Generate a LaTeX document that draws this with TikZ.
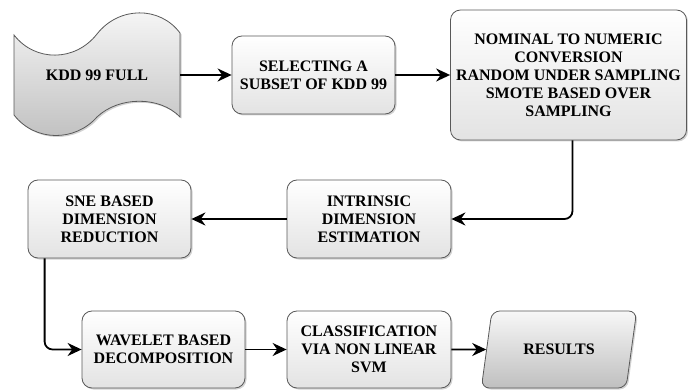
\documentclass[tikz,border=0pt]{standalone}
\usepackage{fontspec}
\setmainfont{Liberation Serif}
\usetikzlibrary{shapes.geometric,shadows,arrows.meta}

\begin{document}
\begin{tikzpicture}[x=1pt,y=-1pt,>={Stealth[length=14pt,width=13pt]},
  txt/.style={align=center, font=\fontsize{16}{18}\selectfont\bfseries, inner sep=2pt},
  shade/.style={drop shadow={shadow xshift=1.5pt,shadow yshift=-1.5pt,opacity=0.35}},
  box/.style={txt, shade, draw=gray!70!black, line width=0.8pt, rounded corners=10pt,
    top color=white, bottom color=gray!22},
  darkbox/.style={shade, draw=gray!70!black, line width=0.8pt, top color=gray!6, bottom color=gray!50},
  flow/.style={->, line width=1.8pt}]
\useasboundingbox (0,0) rectangle (688,390);

%the data source
\path[darkbox] (14,35) .. controls (35,62) and (75,62) .. (97,34) .. controls (119,6) and (160,6) .. (180,33)
  -- (180,117) .. controls (160,96) and (119,96) .. (97,117) .. controls (75,142) and (35,142) .. (14,115) -- cycle;
\node[txt, minimum width=166pt, minimum height=80pt] (kdd) at (97,75) {KDD 99 FULL};

%first row
\node[box, minimum width=163pt, minimum height=78pt] (sel) at (313.5,75) {SELECTING A\\ SUBSET OF KDD 99};
\node[box, minimum width=236pt, minimum height=130pt] (nom) at (568.5,75)
  {NOMINAL TO NUMERIC\\ CONVERSION\\ RANDOM UNDER SAMPLING\\ SMOTE BASED OVER\\ SAMPLING};
%second row
\node[box, minimum width=164pt, minimum height=78pt] (intr) at (369,219) {INTRINSIC\\ DIMENSION\\ ESTIMATION};
\node[box, minimum width=163pt, minimum height=78pt] (sne) at (109.5,219) {SNE BASED\\ DIMENSION\\ REDUCTION};
%third row
\node[box, minimum width=163pt, minimum height=77pt] (wav) at (163.5,349.5) {WAVELET BASED\\ DECOMPOSITION};
\node[box, minimum width=164pt, minimum height=77pt] (cls) at (369,349.5) {CLASSIFICATION\\ VIA NON LINEAR\\ SVM};
\node[txt, darkbox, trapezium, trapezium left angle=68, trapezium right angle=112, trapezium stretches=true,
  rounded corners=8pt, minimum width=156pt, minimum height=77pt] (res) at (559,349.5) {RESULTS};

%the flow
\draw[flow] (kdd.east) -- (sel.west);
\draw[flow] (sel.east) -- (nom.west);
\draw[flow, rounded corners=8pt] ([xshift=4pt]nom.south) |- (intr.east);
\draw[flow] (intr.west) -- (sne.east);
\draw[flow, rounded corners=8pt] ([xshift=17pt]sne.south west) |- (wav.west);
\draw[flow] (wav.east) -- (cls.west);
\draw[flow] (cls.east) -- (res.west);
\end{tikzpicture}
\end{document}
